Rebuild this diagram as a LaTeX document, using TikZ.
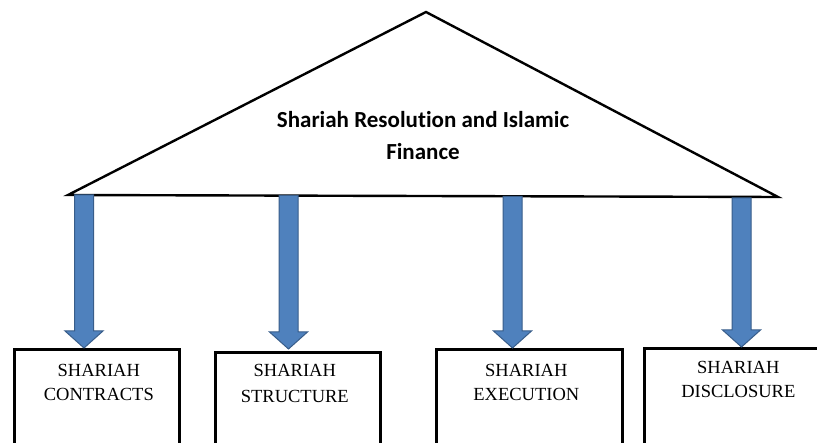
\documentclass[tikz,border=0pt]{standalone}
\usepackage{fontspec}
\setmainfont{Liberation Serif}
\newfontfamily\rooffont[Ligatures=NoCommon]{Carlito}
\usepackage{tikz}
\usetikzlibrary{calc}

\definecolor{arrowFill}{HTML}{4F81BD}
\definecolor{arrowDraw}{HTML}{385D8A}

\newcommand{\shaftwidth}[0]{9.5pt}
\newcommand{\headwidth}[0]{19pt}
\newcommand{\headlength}[0]{17pt}

% block arrow from a top coordinate down to a tip coordinate
\newcommand{\blockarrow}[2]{%
  \draw[blockarrow]
    ([xshift=-\shaftwidth] #1) -- ([xshift=-\shaftwidth, yshift=\headlength] #2)
    -- ([xshift=-\headwidth, yshift=\headlength] #2) -- (#2)
    -- ([xshift=\headwidth, yshift=\headlength] #2)
    -- ([xshift=\shaftwidth, yshift=\headlength] #2)
    -- ([xshift=\shaftwidth] #1) -- cycle;%
}

\begin{document}
\begin{tikzpicture}[x=1pt, y=-1pt]
    \tikzstyle{roof} = [
      draw=black,
      line width=2.4pt,
      line join=miter,
    ]
    \tikzstyle{title} = [
      anchor=center,
      align=center,
      inner sep=0pt,
      font=\rooffont\bfseries\fontsize{23}{32}\selectfont,
    ]
    \tikzstyle{blockarrow} = [
      fill=arrowFill,
      draw=arrowDraw,
      line width=1pt,
      line join=miter,
    ]
    \tikzstyle{sbox} = [
      draw=black,
      line width=2.6pt,
      anchor=north west,
      minimum height=130pt,
      inner sep=0pt,
    ]
    \tikzstyle{boxtext} = [
      anchor=north,
      align=center,
      inner sep=0pt,
      font=\fontsize{18.5}{24.5}\selectfont,
    ]

    \fill[white] (0,0) rectangle (817,443);
    \useasboundingbox (0,0) rectangle (817,443);
    \clip (0,0) rectangle (817,443);

    % roof
    {
      \coordinate (roofLeft)  at (68,195);
      \coordinate (roofTop)   at (426,12);
      \coordinate (roofRight) at (778,197);
      \draw[roof] (roofLeft) -- (roofTop) -- (roofRight) -- cycle;
      \node[title] (roofTitle) at (423,136) {Shariah Resolution and Islamic\\Finance};
    }

    % boxes
    {
      \node[sbox, minimum width=165pt] (boxI)   at (13,348)  {};
      \node[sbox, minimum width=165pt] (boxII)  at (214,351) {};
      \node[sbox, minimum width=186pt] (boxIII) at (435,348) {};
      \node[sbox, minimum width=188pt] (boxIV)  at (643,347) {};

      \node[boxtext] (textI)   at ([xshift=2pt, yshift=-16pt] boxI.north)   {SHARIAH\\CONTRACTS};
      \node[boxtext, font=\fontsize{18.5}{26.5}\selectfont] (textII) at ([xshift=-3pt, yshift=-13pt] boxII.north) {SHARIAH\\STRUCTURE};
      \node[boxtext] (textIII) at ([xshift=-3pt, yshift=-16pt] boxIII.north) {SHARIAH\\EXECUTION};
      \node[boxtext] (textIV)  at ([yshift=-14pt] boxIV.north)  {SHARIAH\\DISCLOSURE};
    }

    % arrows
    {
      \coordinate (topI)   at (84,195);
      \coordinate (topII)  at (288.5,195.5);
      \coordinate (topIII) at (512.5,196.5);
      \coordinate (topIV)  at (741.5,198);

      \coordinate (tipI)   at (topI |- boxI.north);
      \coordinate (tipII)  at ([yshift=2pt] topII |- boxII.north);
      \coordinate (tipIII) at (topIII |- boxIII.north);
      \coordinate (tipIV)  at (topIV |- boxIV.north);

      \blockarrow{topI}{tipI}
      \blockarrow{topII}{tipII}
      \blockarrow{topIII}{tipIII}
      \blockarrow{topIV}{tipIV}
    }
\end{tikzpicture}
\end{document}
